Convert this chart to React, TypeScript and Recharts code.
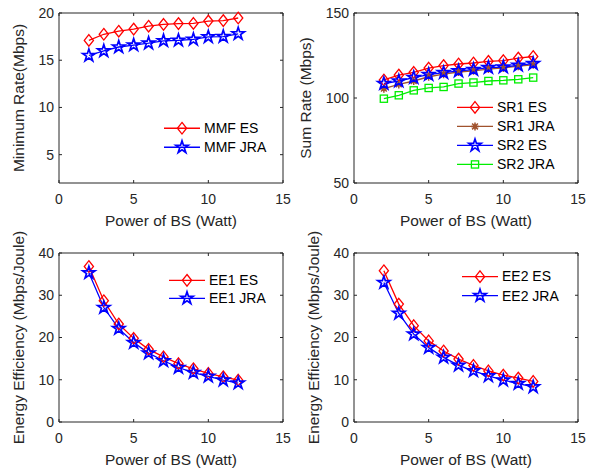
import React from 'react'
import { LineChart, Line, XAxis, YAxis, Legend } from 'recharts'

const power = [2, 3, 4, 5, 6, 7, 8, 9, 10, 11, 12]
const xTicks = [0, 5, 10, 15]

const mmfES = [17.1, 17.75, 18.07, 18.3, 18.6, 18.8, 18.88, 18.9, 19.15, 19.2, 19.47]
const mmfJRA = [15.5, 15.98, 16.4, 16.6, 16.8, 17.05, 17.1, 17.2, 17.47, 17.5, 17.8]

const sr1ES = [110.6, 113.5, 115.1, 117.6, 119.1, 120, 120.6, 121.6, 122, 123.5, 124.4]
const sr1JRA = [105.5, 108, 110, 112.5, 114, 115.3, 116, 117, 117.7, 118.7, 119.5]
const sr2ES = [108.5, 110, 112, 113.8, 114.9, 115.9, 116.7, 117.9, 118.2, 119.2, 120.2]
const sr2JRA = [99.6, 101.6, 104.5, 105.9, 106.5, 108.5, 109.1, 110, 110.4, 111, 112]

const ee1ES = [36.8, 28.7, 23.2, 19.8, 17.2, 15.4, 13.8, 12.6, 11.5, 10.7, 9.9]
const ee1JRA = [35.3, 27.1, 22.1, 18.8, 16.3, 14.5, 12.9, 11.7, 10.8, 9.9, 9.2]
const ee2ES = [35.8, 27.9, 22.8, 19.2, 16.8, 14.9, 13.4, 12.1, 11.1, 10.4, 9.6]
const ee2JRA = [33.0, 25.7, 20.8, 17.6, 15.3, 13.4, 12.1, 10.9, 9.9, 9.1, 8.3]

const AXIS = '#262626'
const RED = '#ff0000'
const BLUE = '#0000ff'
const BROWN = '#a0522d'
const GREEN = '#00ee00'

type Kind = 'diamond' | 'star' | 'asterisk' | 'square'
type Series = { name: string; values: number[]; color: string; kind: Kind }

function starPath(cx: number, cy: number, R: number) {
  const r = R * 0.382
  const pts: string[] = []
  for (let i = 0; i < 10; i++) {
    const a = -Math.PI / 2 + (i * Math.PI) / 5
    const rr = i % 2 === 0 ? R : r
    pts.push(`${cx + rr * Math.cos(a)},${cy + rr * Math.sin(a)}`)
  }
  return 'M' + pts.join('L') + 'Z'
}

function Marker({ kind, cx, cy, color }: { kind: Kind; cx: number; cy: number; color: string }) {
  if (kind === 'diamond') {
    return (
      <path
        d={`M${cx},${cy - 5.8}L${cx + 4.6},${cy}L${cx},${cy + 5.8}L${cx - 4.6},${cy}Z`}
        fill="none"
        stroke={color}
        strokeWidth={1.3}
      />
    )
  }
  if (kind === 'star') {
    return <path d={starPath(cx, cy, 6.5)} fill="none" stroke={color} strokeWidth={1.7} />
  }
  if (kind === 'square') {
    return <rect x={cx - 3.6} y={cy - 3.6} width={7.2} height={7.2} fill="none" stroke={color} strokeWidth={1.3} />
  }
  const s = 4
  const d = 2.9
  return (
    <path
      d={`M${cx - s},${cy}L${cx + s},${cy}M${cx},${cy - s}L${cx},${cy + s}M${cx - d},${cy - d}L${cx + d},${cy + d}M${cx - d},${cy + d}L${cx + d},${cy - d}`}
      stroke={color}
      strokeWidth={1.5}
    />
  )
}

type PanelProps = {
  left: number
  top: number
  height: number
  marginTop: number
  plotH: number
  yDomain: [number, number]
  yTicks: number[]
  yTitle: string
  yTitleX: number
  series: Series[]
  legendLeft: number
  legendTop: number
  rowH: number
}

function Panel(p: PanelProps) {
  const rows = power.map((x, i) => {
    const r: Record<string, number> = { p: x }
    p.series.forEach((s) => (r[s.name] = s.values[i]))
    return r
  })
  const xAxisH = p.height - p.marginTop - p.plotH

  return (
    <div style={{ position: 'absolute', left: p.left, top: p.top }}>
      <LineChart
        width={297}
        height={p.height}
        data={rows}
        margin={{ top: p.marginTop - 1, right: 13, bottom: 0, left: 0 }}
      >
        <XAxis
          dataKey="p"
          type="number"
          domain={[0, 15]}
          ticks={xTicks}
          height={xAxisH}
          tickSize={-3}
          tickMargin={14}
          tick={{ fill: AXIS, fontSize: 14 }}
          stroke={AXIS}
          label={{
            content: (lp: any) => {
              const vb = lp.viewBox
              return (
                <text x={vb.x + vb.width / 2} y={vb.y + 43} textAnchor="middle" fontSize={15.5} fill={AXIS}>
                  Power of BS (Watt)
                </text>
              )
            },
          }}
        />
        {/* top edge of the box: a 1px axis with inward ticks, no labels */}
        <XAxis
          xAxisId="top"
          orientation="top"
          dataKey="p"
          type="number"
          domain={[0, 15]}
          ticks={xTicks}
          height={1}
          tickSize={-3}
          tickFormatter={() => ''}
          stroke={AXIS}
        />
        <YAxis
          type="number"
          domain={p.yDomain}
          ticks={p.yTicks}
          width={59}
          tickSize={-3}
          tickMargin={8}
          tick={{ fill: AXIS, fontSize: 14 }}
          stroke={AXIS}
          label={{
            content: (lp: any) => {
              const vb = lp.viewBox
              const cy = vb.y + vb.height / 2
              return (
                <text
                  x={p.yTitleX}
                  y={cy}
                  transform={`rotate(-90 ${p.yTitleX} ${cy})`}
                  textAnchor="middle"
                  fontSize={15.5}
                  fill={AXIS}
                >
                  {p.yTitle}
                </text>
              )
            },
          }}
        />
        <YAxis
          yAxisId="right"
          orientation="right"
          type="number"
          domain={p.yDomain}
          ticks={p.yTicks}
          width={1}
          tickSize={-3}
          tickFormatter={() => ''}
          stroke={AXIS}
        />
        <Line
          xAxisId="top"
          yAxisId="right"
          dataKey={p.series[0].name}
          stroke="none"
          dot={false}
          activeDot={false}
          legendType="none"
          isAnimationActive={false}
        />
        {p.series.map((s) => (
          <Line
            key={s.name}
            dataKey={s.name}
            type="linear"
            stroke={s.color}
            strokeWidth={1.3}
            isAnimationActive={false}
            dot={(dp: any) => <Marker key={dp.index} kind={s.kind} cx={dp.cx} cy={dp.cy} color={s.color} />}
          />
        ))}
        <Legend
          layout="vertical"
          align="center"
          verticalAlign="middle"
          wrapperStyle={{ left: p.legendLeft, top: p.legendTop, width: 130, height: 'auto' }}
          content={() => (
            <div>
              {p.series.map((s) => (
                <div key={s.name} style={{ display: 'flex', alignItems: 'center', height: p.rowH }}>
                  <svg width={36} height={p.rowH} style={{ display: 'block' }}>
                    <line x1={0} y1={p.rowH / 2} x2={36} y2={p.rowH / 2} stroke={s.color} strokeWidth={1.3} />
                    <Marker kind={s.kind} cx={18} cy={p.rowH / 2} color={s.color} />
                  </svg>
                  <span style={{ marginLeft: 4, fontSize: 14, color: '#000', whiteSpace: 'nowrap' }}>{s.name}</span>
                </div>
              ))}
            </div>
          )}
        />
      </LineChart>
    </div>
  )
}

export default function App() {
  return (
    <div
      style={{
        position: 'absolute',
        left: 0,
        top: 0,
        width: 595,
        height: 468,
        background: '#fff',
        fontFamily: '"Liberation Sans", Arial, Helvetica, sans-serif',
        overflow: 'hidden',
      }}
    >
      <Panel
        left={0}
        top={0}
        height={234}
        marginTop={13}
        plotH={170}
        yDomain={[2, 20]}
        yTicks={[5, 10, 15, 20]}
        yTitle="Minimum Rate(Mbps)"
        yTitleX={24}
        series={[
          { name: 'MMF ES', values: mmfES, color: RED, kind: 'diamond' },
          { name: 'MMF JRA', values: mmfJRA, color: BLUE, kind: 'star' },
        ]}
        legendLeft={164}
        legendTop={119}
        rowH={18.5}
      />
      <Panel
        left={295}
        top={0}
        height={234}
        marginTop={13}
        plotH={170}
        yDomain={[50, 150]}
        yTicks={[50, 100, 150]}
        yTitle="Sum Rate (Mbps)"
        yTitleX={16}
        series={[
          { name: 'SR1 ES', values: sr1ES, color: RED, kind: 'diamond' },
          { name: 'SR1 JRA', values: sr1JRA, color: BROWN, kind: 'asterisk' },
          { name: 'SR2 ES', values: sr2ES, color: BLUE, kind: 'star' },
          { name: 'SR2 JRA', values: sr2JRA, color: GREEN, kind: 'square' },
        ]}
        legendLeft={162}
        legendTop={98}
        rowH={18.9}
      />
      <Panel
        left={0}
        top={214}
        height={254}
        marginTop={39}
        plotH={169}
        yDomain={[0, 40]}
        yTicks={[0, 10, 20, 30, 40]}
        yTitle="Energy Efficiency (Mbps/Joule)"
        yTitleX={24}
        series={[
          { name: 'EE1 ES', values: ee1ES, color: RED, kind: 'diamond' },
          { name: 'EE1 JRA', values: ee1JRA, color: BLUE, kind: 'star' },
        ]}
        legendLeft={169}
        legendTop={56.5}
        rowH={18.6}
      />
      <Panel
        left={295}
        top={214}
        height={254}
        marginTop={39}
        plotH={169}
        yDomain={[0, 40]}
        yTicks={[0, 10, 20, 30, 40]}
        yTitle="Energy Efficiency (Mbps/Joule)"
        yTitleX={24}
        series={[
          { name: 'EE2 ES', values: ee2ES, color: RED, kind: 'diamond' },
          { name: 'EE2 JRA', values: ee2JRA, color: BLUE, kind: 'star' },
        ]}
        legendLeft={167}
        legendTop={52.6}
        rowH={19.4}
      />
    </div>
  )
}
